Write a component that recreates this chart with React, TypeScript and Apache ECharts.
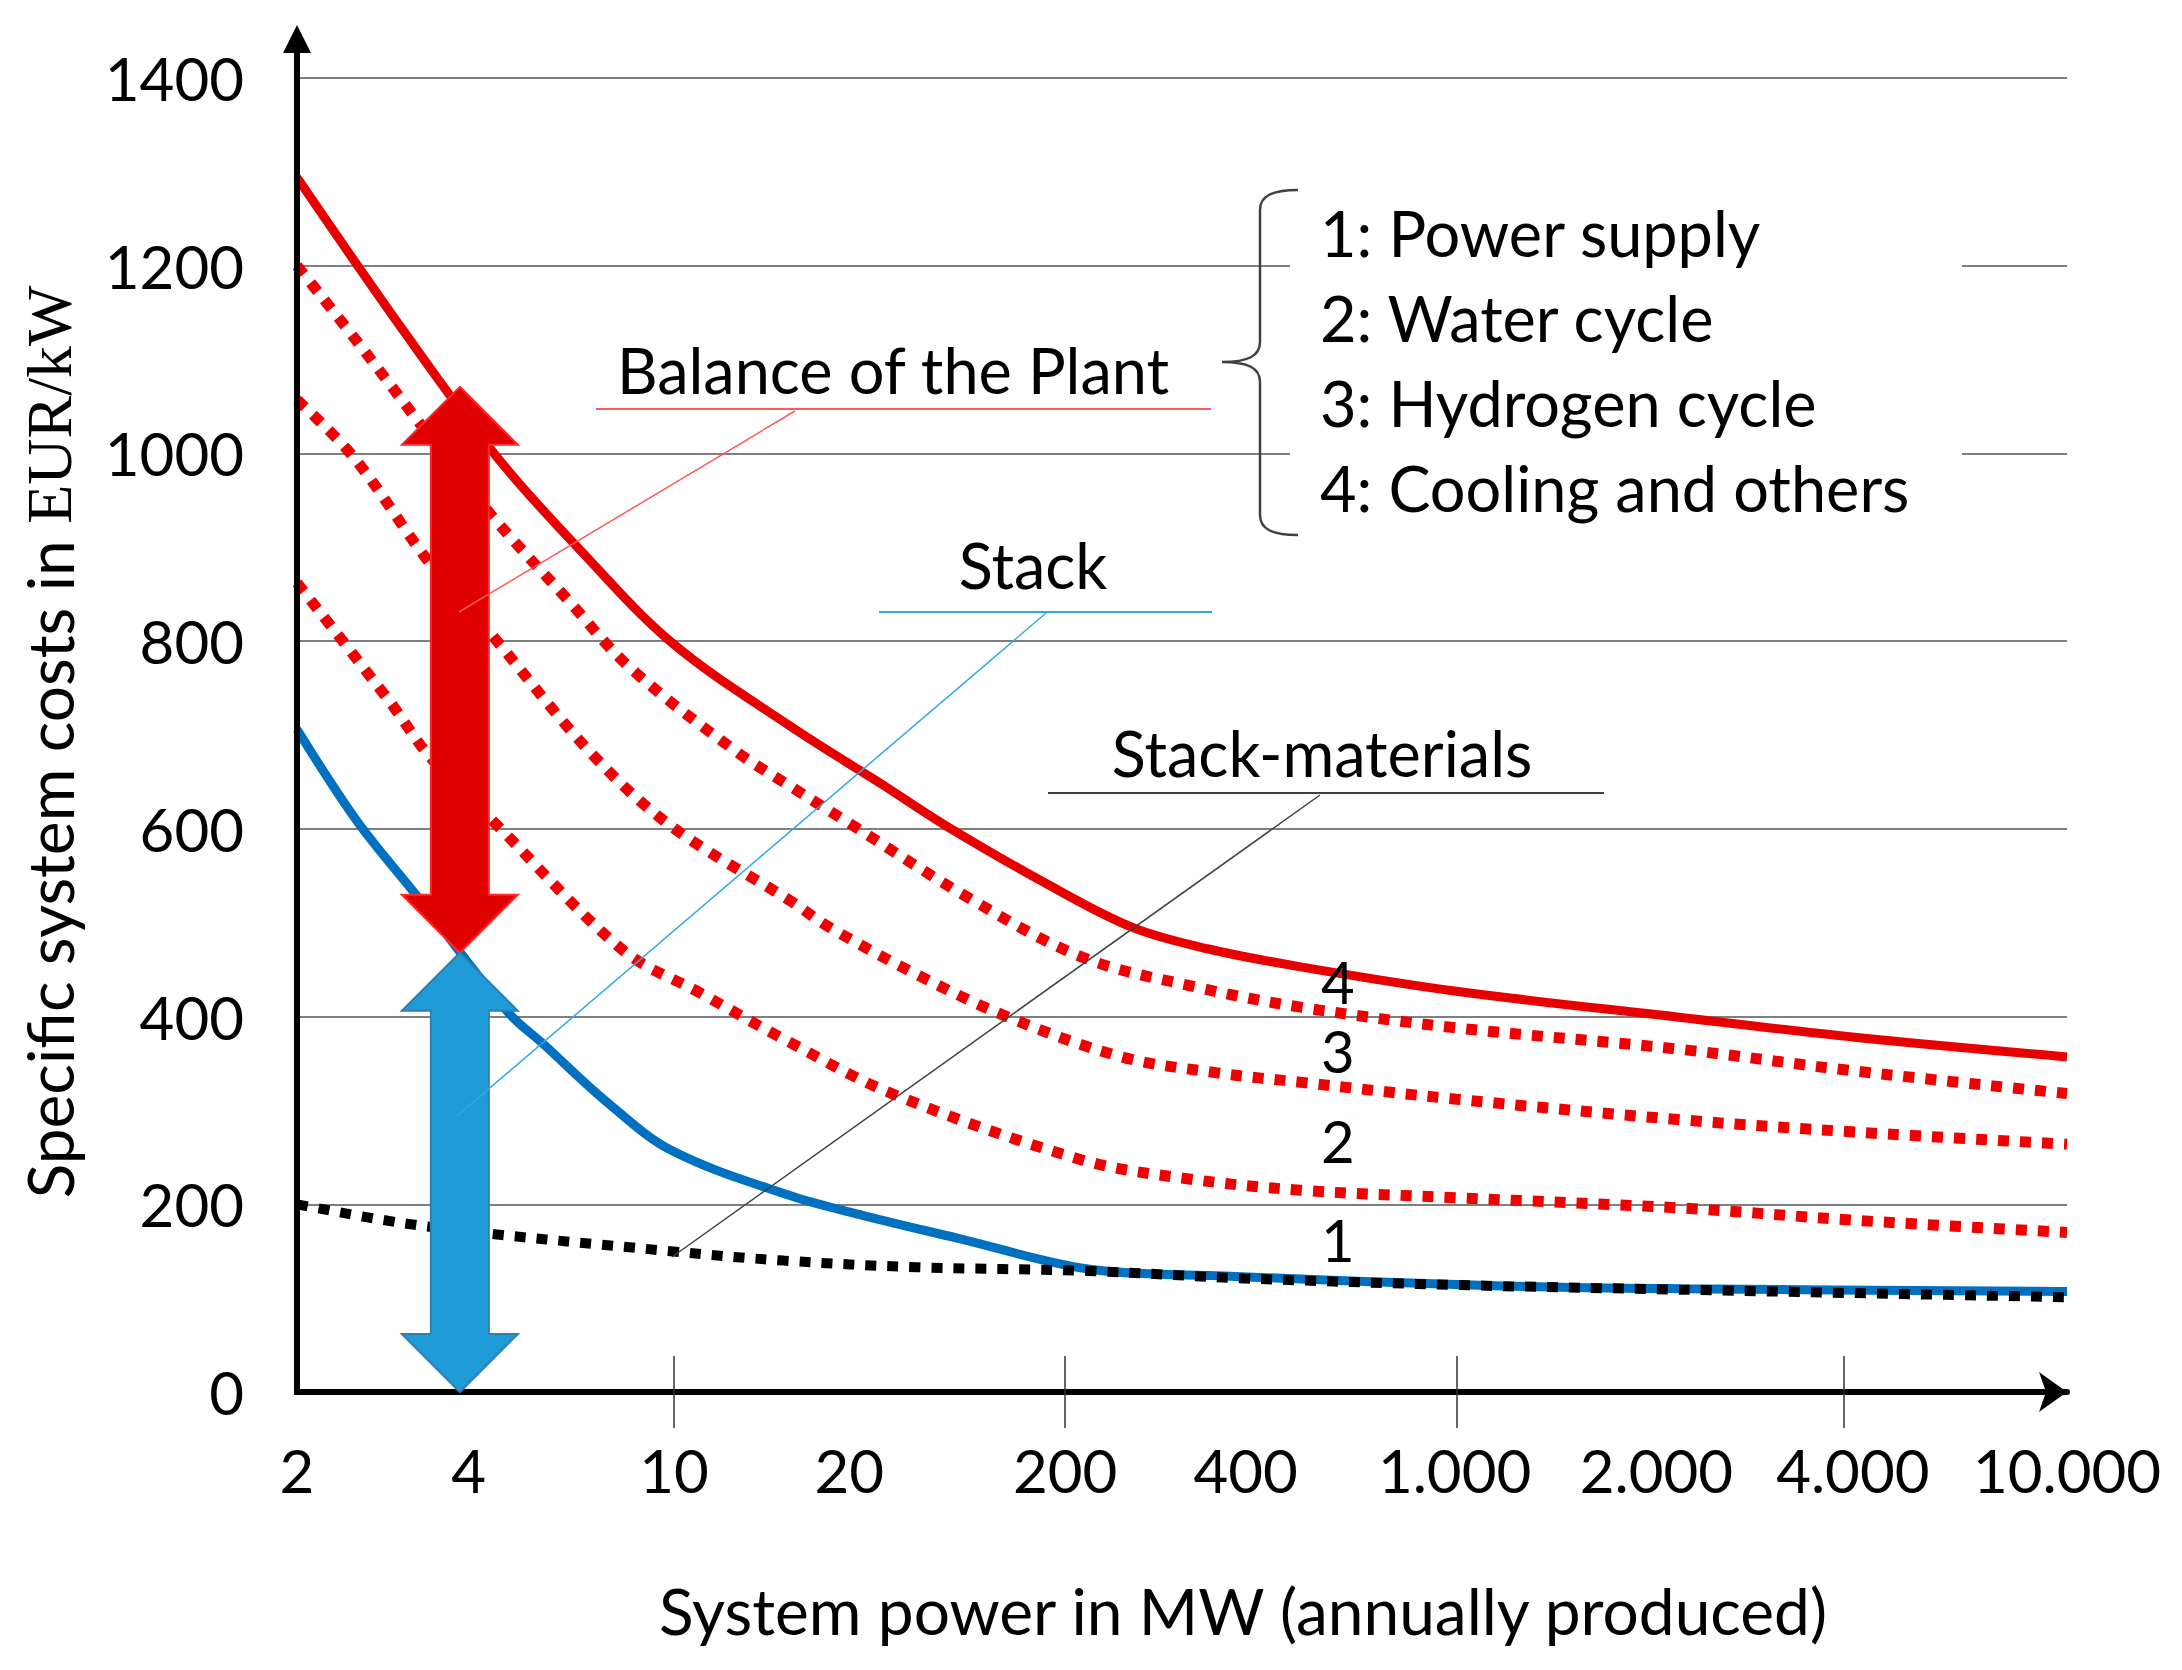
import React, { useEffect, useRef } from "react";
import * as echarts from "echarts";

// ---- axis definitions (x positions are relative axis units 0..100) ----
const tickLabels = ["2", "4", "10", "20", "200", "400", "1.000", "2.000", "4.000", "10.000"];
const tickLabelPos = [0, 9.7, 21.3, 31.2, 43.4, 53.6, 65.4, 76.8, 87.9, 100];
const majorTickPos = [21.3, 43.4, 65.5, 87.4];
const yMin = 0;
const yMax = 1400;
const yStep = 200;

// ---- series (x = axis position, y = EUR/kW) ----
const totalX = [0, 6, 11.3, 16, 21.2, 27.9, 33, 36.6, 42.3, 47.2, 51.5, 56.7, 65.5, 78.2, 88, 100];
const totalY = [1294, 1131, 996, 897, 798, 709, 648, 604, 542, 495, 472, 453, 427, 399, 378, 357];

const bop3X = [0, 3.2, 7.1, 10.9, 15.3, 18.8, 24.7, 27.9, 31.2, 37.9, 44.4, 50.9, 56.7, 65.5, 78.2, 88, 100];
const bop3Y = [1200, 1124, 1028, 936, 844, 772, 684, 645, 606, 527, 463, 431, 410, 388, 365, 342, 318];

const bop2X = [0, 3.2, 7.5, 10.9, 16.6, 21.2, 27.9, 30.1, 35, 40.1, 46.6, 52, 56.7, 65.5, 78.2, 88, 100];
const bop2Y = [1057, 996, 883, 809, 681, 602, 523, 495, 445, 400, 357, 340, 330, 312, 290, 277, 264];

const bop1X = [0, 5.3, 7.5, 11.3, 18.4, 22.8, 27.5, 33.6, 44.4, 50, 56.7, 65.5, 78.2, 88, 100];
const bop1Y = [862, 734, 677, 604, 471, 425, 376, 318, 247, 228, 215, 207, 196, 183, 170];

const stackX = [0, 3.4, 6.8, 11.9, 13.9, 17.5, 21.2, 27.9, 32, 37.3, 44.7, 51.7, 68.1, 78.2, 100];
const stackY = [706, 608, 528, 405, 371, 309, 257, 209, 188, 164, 131, 124, 113, 110, 107];

const materialsX = [0, 7.1, 21.1, 27.5, 35, 44.7, 53.5, 65.5, 78.2, 100];
const materialsY = [200, 177, 150, 140, 133, 129, 121, 114, 109, 101];

// region numbers between the curves
const regionNames = ["4", "3", "2", "1"];
const regionX = 58.8;
const regionY = [437, 364, 268, 163];

// double arrows at "4 MW"
const arrowX = 9.2;
const bopArrow = [468, 1071];
const stackArrow = [0, 468];

const legendItems = ["1: Power supply", "2: Water cycle", "3: Hydrogen cycle", "4: Cooling and others"];

const FONT = "Lato";
const bracePath =
  "M76,0 C50,0 38,6 38,20 L38,152 C38,166 26,172 0,172 C26,172 38,178 38,192 L38,325 C38,339 50,345 76,345";

const zip = (xs: number[], ys: number[]) => xs.map((x, i) => [x, ys[i]]);

export default function App() {
  const ref = useRef<HTMLDivElement>(null);

  useEffect(() => {
    document.body.style.margin = "0";
    echarts.graphic.registerShape("brace", echarts.graphic.extendPath(bracePath, {}) as any);
    const chart = echarts.init(ref.current!, null, { renderer: "svg" });

    const lineSeries = (name: string, xs: number[], ys: number[], color: string, type: any, width: number, z: number) => ({
      type: "line",
      name,
      data: zip(xs, ys),
      showSymbol: false,
      symbol: "none",
      smooth: 0.35,
      z,
      lineStyle: { color, width, type, cap: "butt" },
    });

    const labelFor = (v: number) => {
      let best = 0;
      tickLabelPos.forEach((p, i) => {
        if (Math.abs(p - v) < Math.abs(tickLabelPos[best] - v)) best = i;
      });
      return tickLabels[best];
    };

    const option: any = {
      animation: false,
      backgroundColor: "#ffffff",
      grid: { left: 297, right: 115, top: 78, bottom: 278, containLabel: false, outerBoundsMode: "none" },
      xAxis: [
        {
          type: "value",
          min: 0,
          max: 100,
          position: "bottom",
          axisLine: {
            show: true,
            lineStyle: { color: "#000", width: 6 },
            symbol: ["none", "arrow"],
            symbolSize: [30, 28],
          },
          axisTick: { show: true, customValues: majorTickPos, length: 36, inside: false, lineStyle: { color: "#333", width: 1.5 } },
          axisLabel: {
            show: true,
            customValues: tickLabelPos,
            formatter: (v: number) => labelFor(v),
            fontSize: 60,
            fontFamily: FONT,
            color: "#000",
            margin: 48,
            showMinLabel: true,
            showMaxLabel: true,
          },
          splitLine: { show: false },
        },
        {
          type: "value",
          min: 0,
          max: 100,
          position: "bottom",
          axisLine: { show: false },
          axisTick: { show: true, customValues: majorTickPos, length: 36, inside: true, lineStyle: { color: "#333", width: 1.5 } },
          axisLabel: { show: false },
          splitLine: { show: false },
        },
      ],
      yAxis: {
        type: "value",
        min: yMin,
        max: yMax,
        interval: yStep,
        axisLine: { show: false },
        axisTick: { show: false },
        axisLabel: { fontSize: 60, fontFamily: FONT, color: "#000", margin: 53, formatter: (v: number) => String(v) },
        splitLine: { show: true, lineStyle: { color: "#7f7f7f", width: 2 } },
      },
      series: [
        lineSeries("Hydrogen cycle", bop1X, bop1Y, "#f00000", [11, 11], 11, 2),
        lineSeries("Water cycle", bop2X, bop2Y, "#f00000", [11, 11], 11, 2),
        lineSeries("Power supply", bop3X, bop3Y, "#f00000", [11, 11], 11, 2),
        lineSeries("Total", totalX, totalY, "#e60000", "solid", 9, 3),
        lineSeries("Stack", stackX, stackY, "#0070c0", "solid", 9, 3),
        lineSeries("Stack-materials", materialsX, materialsY, "#000000", [11, 11], 10, 4),
      ],
    };
    chart.setOption(option);

    const px = (x: number, y: number) => chart.convertToPixel({ xAxisIndex: 0, yAxisIndex: 0 }, [x, y]) as number[];

    const doubleArrow = (x: number, v0: number, v1: number, fill: string, stroke: string) => {
      const [cx, yb] = px(x, v0);
      const [, yt] = px(x, v1);
      const hw = 58, sw = 29, hl = 58;
      return {
        type: "polygon",
        z: 20,
        shape: {
          points: [
            [cx, yt], [cx + hw, yt + hl], [cx + sw, yt + hl], [cx + sw, yb - hl], [cx + hw, yb - hl],
            [cx, yb], [cx - hw, yb - hl], [cx - sw, yb - hl], [cx - sw, yt + hl], [cx - hw, yt + hl],
          ],
        },
        style: { fill, stroke, lineWidth: 2 },
      };
    };

    const [ax0, ay0] = px(0, yMin);
    const [, ayTop] = px(0, yMax);
    const yTip = ayTop - 53;

    const txt = (text: string, x: number, y: number, align: string, size = 63) => ({
      type: "text",
      z: 30,
      x,
      y,
      style: { text, fontSize: size, fontFamily: FONT, fill: "#000", align, verticalAlign: "middle" },
    });
    const seg = (x1: number, y1: number, x2: number, y2: number, stroke: string, w = 2) => ({
      type: "line",
      z: 25,
      shape: { x1, y1, x2, y2 },
      style: { stroke, lineWidth: w },
    });

    const regionTexts = regionY.map((v, i) => {
      const [x, y] = px(regionX, v);
      return {
        type: "text",
        z: 30,
        x,
        y,
        style: { text: regionNames[i], fontSize: 58, lineHeight: 48, fontFamily: FONT, fill: "#000", align: "center", verticalAlign: "middle" },
      };
    });

    const graphic: any[] = [
      // y axis line with arrow
      { type: "line", z: 15, shape: { x1: ax0, y1: ay0 + 3, x2: ax0, y2: yTip + 20 }, style: { stroke: "#000", lineWidth: 6 } },
      { type: "polygon", z: 15, shape: { points: [[ax0, yTip], [ax0 + 14, yTip + 28], [ax0 - 14, yTip + 28]] }, style: { fill: "#000" } },
      // white box behind the legend list
      { type: "rect", z: 10, shape: { x: 1290, y: 180, width: 672, height: 360 }, style: { fill: "#fff" } },
      { type: "brace", z: 11, x: 1222, y: 190, style: { stroke: "#404040", lineWidth: 2.5, fill: "none" } },
      ...legendItems.map((t, i) => txt(t, 1320, 232 + i * 85, "left")),
      // arrows
      doubleArrow(arrowX, bopArrow[0], bopArrow[1], "#e00000", "#ff2a2a"),
      doubleArrow(arrowX, stackArrow[0], stackArrow[1], "#1f9bd7", "#2b80b4"),
      // annotations
      txt("Balance of the Plant", 893, 369, "center"),
      seg(596, 409, 1211, 409, "#ff5a5a"),
      seg(795, 411, 459, 612, "#ff5a5a", 1.5),
      txt("Stack", 1033, 564, "center"),
      seg(879, 612, 1212, 612, "#33a8e0"),
      seg(1046, 613, 457, 1116, "#33a8e0", 1.5),
      txt("Stack-materials", 1322, 752, "center"),
      seg(1048, 793, 1604, 793, "#404040"),
      seg(1320, 795, 672, 1257, "#404040", 1.5),
      ...regionTexts,
      // axis titles
      txt("System power in MW (annually produced)", 1243, 1610, "center", 64),
      {
        type: "text",
        z: 30,
        x: 49,
        y: 742,
        rotation: Math.PI / 2,
        style: {
          text: "{a|Specific system costs in }{b|EUR/kW}",
          align: "center",
          verticalAlign: "middle",
          rich: {
            a: { fontSize: 64, fontFamily: FONT, fill: "#000", color: "#000" },
            b: { fontSize: 64, fontFamily: "Liberation Serif", fill: "#000", color: "#000" },
          },
        },
      },
    ];
    chart.setOption({ graphic });

    return () => chart.dispose();
  }, []);

  return <div ref={ref} style={{ position: "absolute", left: 0, top: 0, width: 2182, height: 1670 }} />;
}
